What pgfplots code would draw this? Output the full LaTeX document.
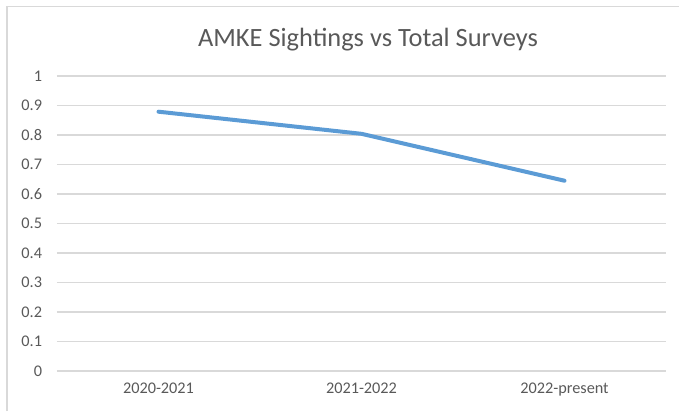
\documentclass[border=0pt]{standalone}
\usepackage{pgfplots}
\pgfplotsset{compat=1.18}
\usepackage{fontspec}
\setmainfont{Carlito}
\definecolor{txt}{HTML}{595959}
\definecolor{gridc}{HTML}{D9D9D9}
\definecolor{ser}{HTML}{5B9BD5}
\begin{document}
\begin{tikzpicture}[x=0.75pt,y=0.75pt]
\path[use as bounding box] (0,0) rectangle (679,411);
\draw[gridc, line width=1pt] (7,0) -- (7,404.5) -- (679,404.5);
\node[text=txt, font=\fontsize{19.8}{23}\selectfont] at (368,371) {AMKE Sightings vs Total Surveys};
\begin{axis}[
  at={(42.75pt,30pt)}, anchor=south west,
  scale only axis, width=456.75pt, height=221.25pt,
  xmin=-0.5, xmax=2.5, ymin=0, ymax=1,
  xtick={0,1,2}, xticklabels={2020-2021,2021-2022,2022-present},
  ytick={0,0.1,...,1.01},
  yticklabel style={/pgf/number format/fixed, /pgf/number format/precision=1},
  /pgf/number format/assume math mode=true,
  ymajorgrids, xmajorgrids=false, major grid style={gridc, line width=1.1pt},
  axis line style={draw=none},
  major tick length=0pt,
  tick label style={text=txt, font=\fontsize{12.2}{14}\selectfont},
  yticklabel style={anchor=east, inner sep=0pt, xshift=-11pt},
  xticklabel style={anchor=north, inner sep=0pt, yshift=-9pt},
  clip=false,
]
\addplot[ser, line width=3pt, line cap=round, line join=round] coordinates {(0,0.879) (1,0.804) (2,0.645)};
\end{axis}
\end{tikzpicture}
\end{document}
